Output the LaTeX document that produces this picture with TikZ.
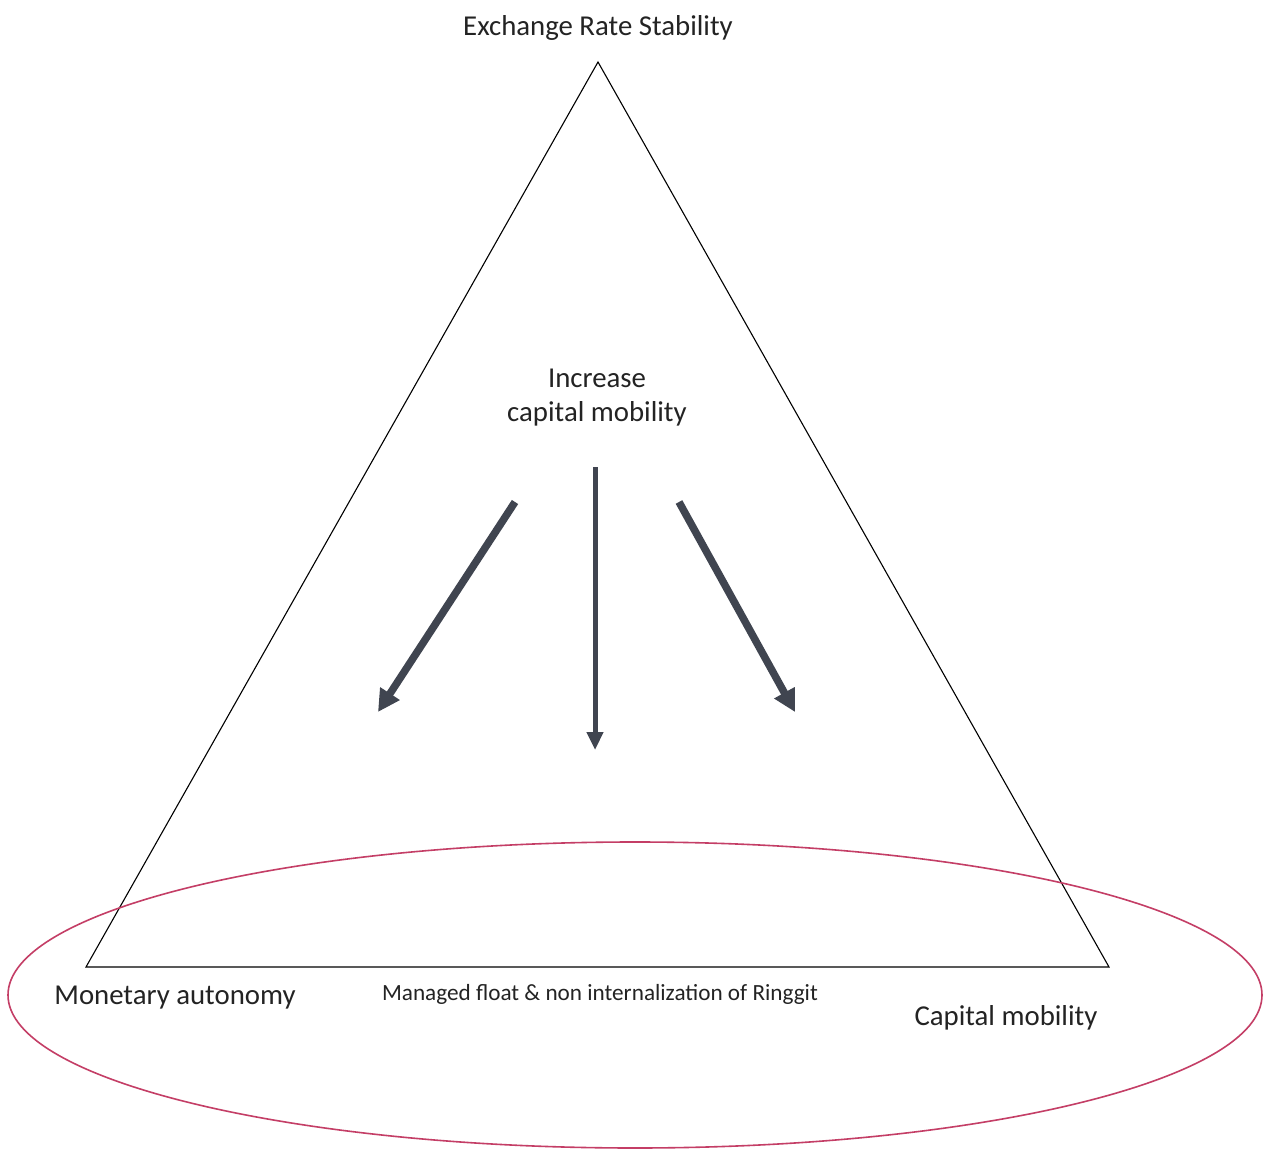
\documentclass[tikz,border=0pt]{standalone}
\usepackage{fontspec}
\setmainfont{Carlito}
\usetikzlibrary{arrows.meta}
\definecolor{ellcol}{RGB}{196,62,102}
\definecolor{arrcol}{RGB}{64,69,80}
\definecolor{txtcol}{RGB}{35,35,35}
\begin{document}
\begin{tikzpicture}[x=1pt,y=-1pt,
  lbl/.style={inner sep=0pt,text=txtcol,font=\fontsize{28.8}{34}\selectfont},
  small/.style={inner sep=0pt,text=txtcol,font=\fontsize{23.2}{28}\selectfont},
  bigarrow/.style={draw=arrcol,line width=7.5pt,-{Triangle[width=22pt,length=22pt]}},
  midarrow/.style={draw=arrcol,line width=5pt,-{Triangle[width=16pt,length=18pt]}}]
\useasboundingbox (0,0) rectangle (1264,1150);
\fill[white] (0,0) rectangle (1264,1150);
% triangle
\coordinate (top) at (598,62);
\coordinate (bl) at (86,967);
\coordinate (br) at (1109,967);
\draw[line width=1.1pt] (top) -- (bl) -- (br) -- cycle;
% ellipse
\draw[ellcol,line width=1.6pt] (635,995) ellipse [x radius=627, y radius=153];
% labels
\node[lbl] (ers) at (598,28) {Exchange Rate Stability};
\node[lbl,align=center] (inc) at (597,398) {Increase\\capital mobility};
\node[lbl] (ma) at (175,998) {Monetary autonomy};
\node[lbl] (cm) at (1006,1018) {Capital mobility};
\node[small] (mf) at (600,994) {Managed float \& non internalization of Ringgit};
% arrows
\coordinate (l0) at (515,502); \coordinate (l1) at (378,712);
\coordinate (m0) at (595,467); \coordinate (m1) at (595,750);
\coordinate (r0) at (679,502); \coordinate (r1) at (795,712);
\draw[bigarrow] (l0) -- (l1);
\draw[midarrow] (m0) -- (m1);
\draw[bigarrow] (r0) -- (r1);
\end{tikzpicture}
\end{document}
